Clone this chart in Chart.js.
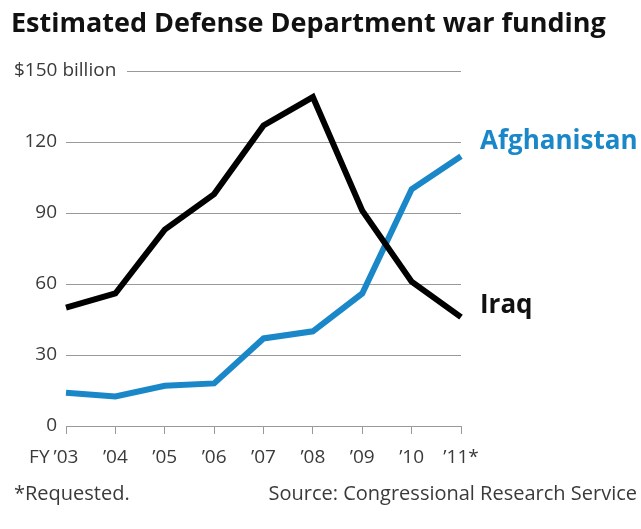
<!DOCTYPE html>
<html>
<head>
<meta charset="utf-8">
<script src="https://cdn.jsdelivr.net/npm/chart.js@4"></script>
<style>
body{margin:0;background:#fff;}
#wrap{position:relative;width:641px;height:529px;}
</style>
</head>
<body>
<div id="wrap"><canvas id="chart" width="641" height="529"></canvas></div>
<script>
const years = ["’03","’04","’05","’06","’07","’08","’09","’10","’11*"];
const iraq = [50,56,83,98,127,139,91,61,46];
const afghanistan = [14,12.5,17,18,37,40,56,100,114];
const yTicks = [0,30,60,90,120,150];

const FONT = "'Open Sans', sans-serif";
const BLUE = "#1a87c8";
const GRID = "#999";

// title, footer, end labels, x labels
const extras = {
    id:"extras",
    afterDraw(chart){
        const ctx = chart.ctx;
        const x = chart.scales.x;
        const y = chart.scales.y;
        ctx.save();

        ctx.fillStyle = "#111";
        ctx.font = "bold 27px " + FONT;
        ctx.textBaseline = "alphabetic";
        ctx.textAlign = "left";
        ctx.fillText("Estimated Defense Department war funding", 11, 32);

        // $150 billion label + its gridline
        const y150 = y.getPixelForValue(150);
        ctx.font = "19px " + FONT;
        ctx.fillStyle = "#3a3a3a";
        ctx.textBaseline = "middle";
        ctx.fillText("$150 billion", 14, y150);
        ctx.strokeStyle = GRID;
        ctx.lineWidth = 1;
        ctx.beginPath();
        ctx.moveTo(127, Math.round(y150) + 0.5);
        ctx.lineTo(x.right, Math.round(y150) + 0.5);
        ctx.stroke();

        // x labels
        ctx.textAlign = "center";
        const ly = x.top + 32;
        years.forEach((lab,i)=>{
            const px = x.getPixelForTick(i);
            ctx.fillText(lab, px, ly);
            if(i === 0){
                const w = ctx.measureText(lab).width;
                ctx.textAlign = "right";
                ctx.fillText("FY", px - w/2 - 4, ly);
                ctx.textAlign = "center";
            }
        });

        // footer
        ctx.font = "20px " + FONT;
        ctx.textAlign = "left";
        ctx.fillText("*Requested.", 14, 494);
        ctx.textAlign = "right";
        ctx.fillText("Source: Congressional Research Service", 637, 494);

        // series labels
        ctx.textAlign = "left";
        ctx.font = "bold 26px " + FONT;
        ctx.fillStyle = BLUE;
        ctx.fillText("Afghanistan", 480, y.getPixelForValue(120));
        ctx.fillStyle = "#111";
        ctx.fillText("Iraq", 480, y.getPixelForValue(51));

        ctx.restore();
    }
};

new Chart(document.getElementById("chart"),{
    type:"line",
    data:{
        labels:years,
        datasets:[
        {
            label:"Iraq",
            data:iraq,
            borderColor:"#000",
            borderWidth:6,
            pointRadius:0,
            tension:0,
            borderJoinStyle:"miter"
        },
        {
            label:"Afghanistan",
            data:afghanistan,
            borderColor:BLUE,
            borderWidth:6,
            pointRadius:0,
            tension:0,
            borderJoinStyle:"miter"
        }
        ]
    },
    options:{
        responsive:false,
        animation:false,
        layout:{padding:{left:0,top:71,right:180,bottom:0}},
        plugins:{legend:{display:false},tooltip:{enabled:false}},
        scales:{
            x:{
                offset:false,
                afterFit:s=>{ s.height = 103; },
                grid:{drawOnChartArea:false,drawTicks:true,tickLength:8,color:GRID},
                border:{display:true,color:GRID},
                ticks:{display:false}
            },
            y:{
                min:0,
                max:150,
                afterFit:s=>{ s.width = 66; },
                afterBuildTicks:s=>{ s.ticks = yTicks.map(v=>({value:v})); },
                grid:{
                    drawTicks:false,
                    color:c=> c.tick && c.tick.value === 150 ? "rgba(0,0,0,0)" : GRID
                },
                border:{display:false},
                ticks:{
                    padding:9,
                    color:"#3a3a3a",
                    font:{family:"'Open Sans', sans-serif",size:19},
                    callback:v=> v === 150 ? "" : v
                }
            }
        }
    },
    plugins:[extras]
});
</script>
</body>
</html>
